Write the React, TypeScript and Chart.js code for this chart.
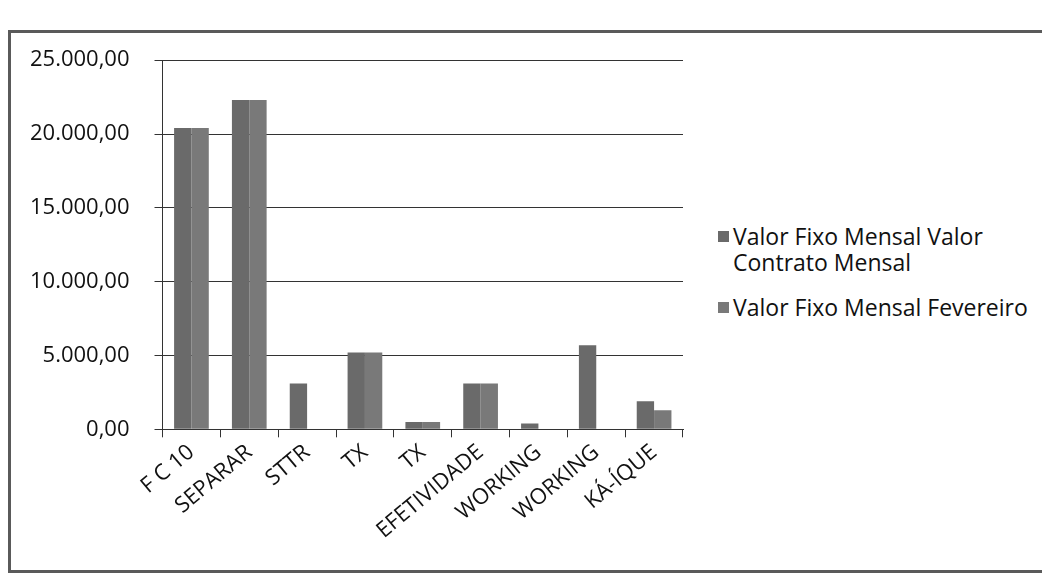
import React, { useEffect, useRef } from "react";
import { Chart, registerables } from "chart.js";

Chart.register(...registerables);

const categories = ["F C 10", "SEPARAR", "STTR", "TX", "TX", "EFETIVIDADE", "WORKING", "WORKING", "KÁ-ÍQUE"];
const seriesNames = ["Valor Fixo Mensal Valor Contrato Mensal", "Valor Fixo Mensal Fevereiro"];
const contratoValues = [20400, 22300, 3100, 5200, 500, 3100, 400, 5700, 1900];
const fevereiroValues = [20400, 22300, 0, 5200, 500, 3100, 0, 0, 1300];
const yTicks = [0, 5000, 10000, 15000, 20000, 25000];

const colors = ["#6a6a6a", "#797979"];

function formatBR(v: number): string {
  const fixed = v.toFixed(2);
  const [intPart, dec] = fixed.split(".");
  const withDots = intPart.replace(/\B(?=(\d{3})+(?!\d))/g, ".");
  return withDots + "," + dec;
}

export default function App() {
  const canvasRef = useRef<HTMLCanvasElement | null>(null);

  useEffect(() => {
    document.body.style.overflow = "hidden";
    const ctx = canvasRef.current;
    if (!ctx) return;
    const chart = new Chart(ctx, {
      type: "bar",
      data: {
        labels: categories,
        datasets: [
          {
            label: seriesNames[0],
            data: contratoValues,
            backgroundColor: colors[0],
            barPercentage: 1.0,
            categoryPercentage: 0.6,
          },
          {
            label: seriesNames[1],
            data: fevereiroValues,
            backgroundColor: colors[1],
            barPercentage: 1.0,
            categoryPercentage: 0.6,
          },
        ],
      },
      options: {
        animation: false,
        responsive: true,
        maintainAspectRatio: false,
        layout: { padding: { left: 0, top: 9, right: 28, bottom: 0 } },
        plugins: {
          legend: { display: false },
          tooltip: { enabled: false },
        },
        scales: {
          x: {
            grid: { display: true, drawOnChartArea: false, drawTicks: true, tickLength: 8, color: "#333", offset: true },
            border: { display: true, color: "#333", width: 1 },
            ticks: {
              color: "#111",
              font: { family: "'Open Sans', sans-serif", size: 22 },
              minRotation: 40,
              maxRotation: 40,
              autoSkip: false,
              padding: 2,
            },
          },
          y: {
            min: 0,
            max: 25000,
            afterBuildTicks: (axis: any) => {
              axis.ticks = yTicks.map((v) => ({ value: v }));
            },
            grid: { color: "#333", lineWidth: 1, tickLength: 8, drawTicks: true },
            border: { display: true, color: "#333", width: 1 },
            ticks: {
              color: "#111",
              font: { family: "'Open Sans', sans-serif", size: 22 },
              padding: 25,
              callback: (v: any) => formatBR(Number(v)),
            },
          },
        },
      },
    });
    return () => {
      chart.destroy();
    };
  }, []);

  const legendFont: React.CSSProperties = {
    fontFamily: "'Open Sans', sans-serif",
    fontSize: 23,
    lineHeight: "26px",
    color: "#111",
  };

  return (
    <div
      style={{
        position: "relative",
        marginTop: 22,
        width: 1046,
        height: 543,
        border: "3px solid #5a5a5a",
        borderRight: "none",
        boxSizing: "border-box",
        background: "#fff",
      }}
    >
      <div style={{ position: "absolute", left: -6, top: -11, width: 706, height: 524 }}>
        <canvas ref={canvasRef} />
      </div>
      <div style={{ position: "absolute", left: 707, top: 190, ...legendFont }}>
        {seriesNames.map((name, i) => (
          <div key={name} style={{ display: "flex", alignItems: "flex-start", marginBottom: i === 0 ? 19 : 0 }}>
            <div
              style={{
                width: 11,
                height: 11,
                background: colors[i],
                marginTop: 8,
                marginRight: 4,
                flex: "0 0 auto",
              }}
            />
            <div style={{ width: 300 }}>{name}</div>
          </div>
        ))}
      </div>
    </div>
  );
}
